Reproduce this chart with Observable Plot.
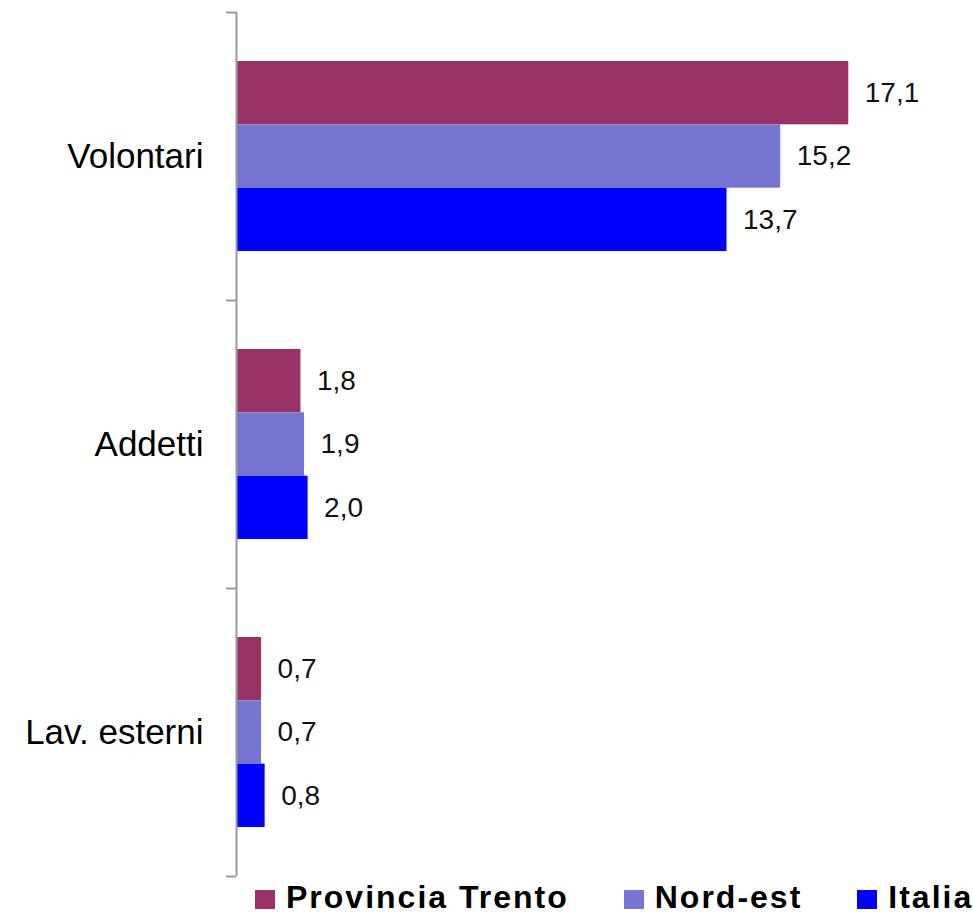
<!DOCTYPE html>
<html>
<head>
<meta charset="utf-8">
<script src="https://cdn.jsdelivr.net/npm/d3@7"></script>
<script src="https://cdn.jsdelivr.net/npm/@observablehq/plot@0.6"></script>
<style>
  html, body { margin: 0; padding: 0; background: #fff; }
  body { font-family: Arial, "Liberation Sans", sans-serif; width: 973px; overflow: hidden; }
  #legend { display: flex; flex-wrap: nowrap; align-items: center; height: 34px; padding-left: 255px; box-sizing: border-box; white-space: nowrap; width: 1100px; }
  .item { display: flex; align-items: center; margin-right: 55px; flex-shrink: 0; white-space: nowrap; }
  .sw { width: 20px; height: 19px; margin-right: 11px; margin-top: 4px; flex-shrink: 0; }
  .lbl { font-weight: bold; font-size: 32px; letter-spacing: 2px; color: #000; line-height: 34px; white-space: nowrap; }
</style>
</head>
<body>
<div id="chart"></div>
<div id="legend"></div>
<script>
// ---- data ----
const categories = ["Volontari", "Addetti", "Lav. esterni"];
const series = ["Provincia Trento", "Nord-est", "Italia"];
const trento = [17.1, 1.8, 0.7];
const nordEst = [15.2, 1.9, 0.7];
const italia = [13.7, 2.0, 0.8];
const colors = ["#993366", "#7676D2", "#0000FF"];

const values = [trento, nordEst, italia];
const fmt = v => v.toFixed(1).replace(".", ",");

// nested band positions within each category slot
const inner = d3.scaleBand().domain(series).range([0, 1]).paddingInner(0).paddingOuter(0.773);
const data = categories.flatMap((c, i) => series.map((s, j) => ({
  category: c, series: s, value: values[j][i],
  y1: i + inner(s), y2: i + inner(s) + inner.bandwidth()
})));

const chart = Plot.plot({
  width: 973,
  height: 880,
  marginLeft: 236,
  marginRight: 3,
  marginTop: 12,
  marginBottom: 4,
  style: { fontFamily: "Arial, 'Liberation Sans', sans-serif", background: "#fff" },
  x: { domain: [0, 20.5], axis: null },
  y: { domain: [0, categories.length], reverse: true, axis: null },
  color: { domain: series, range: colors },
  marks: [
    Plot.rect(data, { x1: 0, x2: "value", y1: "y1", y2: "y2", fill: "series" }),
    Plot.text(data, {
      x: "value", y: d => (d.y1 + d.y2) / 2, text: d => fmt(d.value),
      textAnchor: "start", dx: 16, fontSize: 28, fill: "#111"
    }),
    Plot.axisY({
      ticks: d3.range(categories.length + 1), tickSize: 10, tickFormat: () => "",
      stroke: "#9a9a9a", strokeWidth: 2
    }),
    Plot.axisY({
      ticks: categories.map((c, i) => i + 0.5), tickSize: 0, tickPadding: 33,
      tickFormat: v => categories[Math.floor(v)], fontSize: 35, fill: "#000"
    }),
    Plot.ruleX([0], { stroke: "#9a9a9a", strokeWidth: 2 })
  ]
});
document.getElementById("chart").appendChild(chart);

const legend = d3.select("#legend");
series.forEach((s, i) => {
  const it = legend.append("div").attr("class", "item");
  it.append("div").attr("class", "sw").style("background", colors[i]);
  it.append("span").attr("class", "lbl").text(s);
});
</script>
</body>
</html>
